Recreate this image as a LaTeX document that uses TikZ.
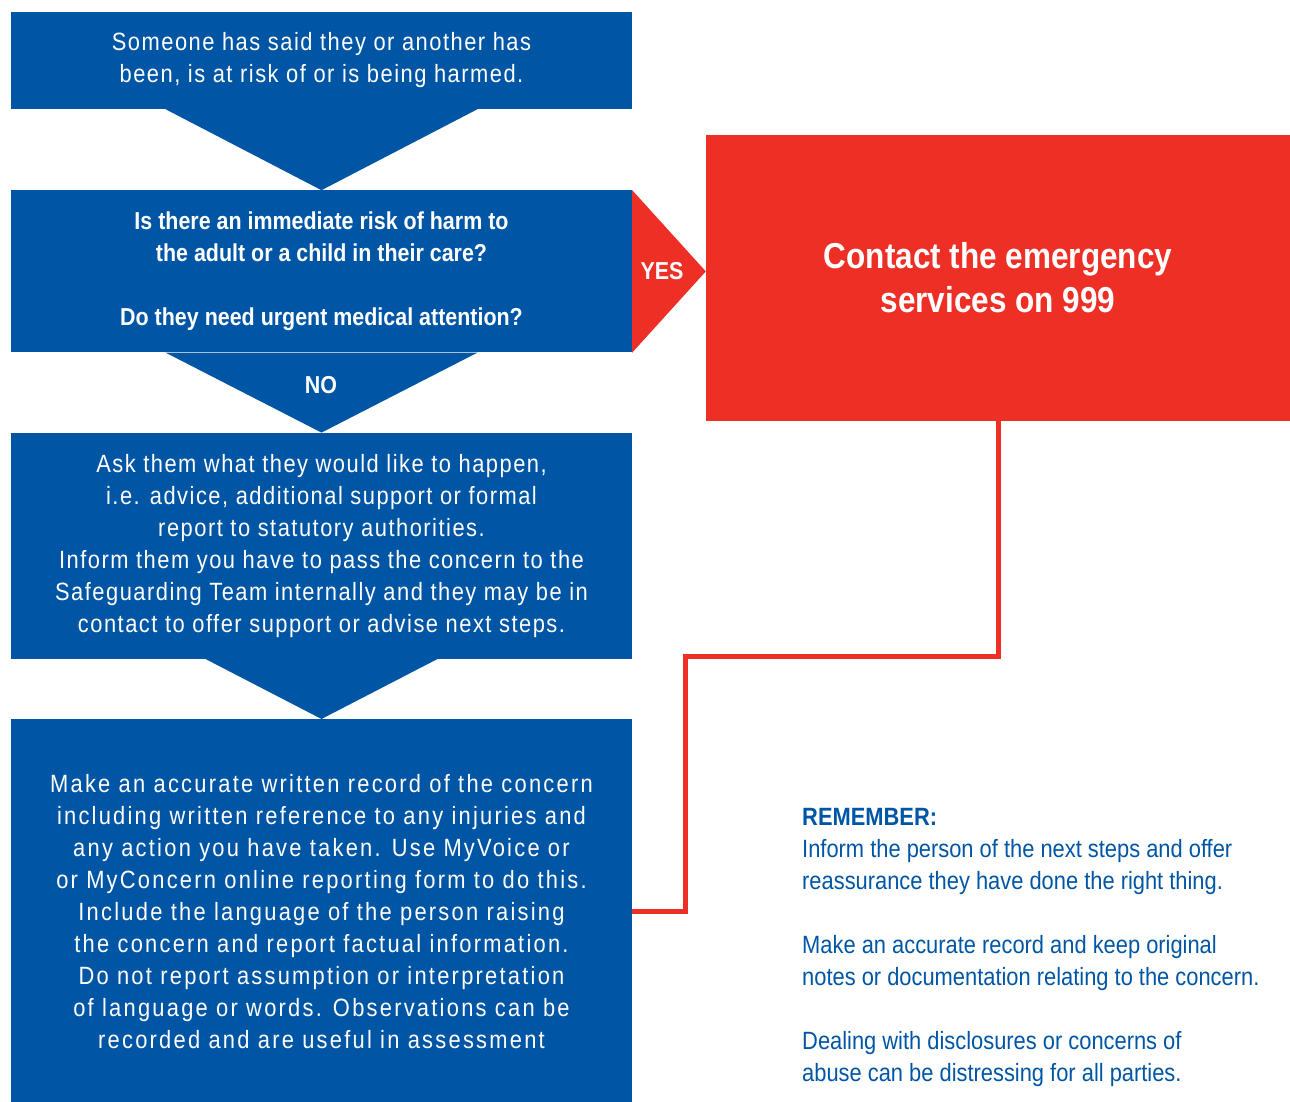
\documentclass[tikz,border=0pt]{standalone}
\usepackage{fontspec}
\setmainfont{Liberation Sans}[FakeStretch=0.875]
\newfontfamily\trackfont{Liberation Sans}[FakeStretch=0.875,LetterSpace=6]
\newfontfamily\widetrackfont{Liberation Sans}[FakeStretch=0.875,LetterSpace=9]
\usetikzlibrary{calc,positioning}
\definecolor{sgblue}{RGB}{0,86,165}
\definecolor{sgred}{RGB}{238,47,37}

\begin{document}
\begin{tikzpicture}[x=1pt,y=-1pt,
    bluebox/.style={rectangle, fill=sgblue, text=white, minimum width=621pt,
        inner sep=0pt, align=center, font=\trackfont\fontsize{25}{32}\selectfont},
    boldtext/.style={font=\bfseries\fontsize{24.5}{32}\selectfont},
    redline/.style={draw=sgred, line width=5pt}]

    \useasboundingbox (0,0) rectangle (1290,1102);

    %left column
    \node (start) [bluebox, minimum height=97pt] at (321.5,60.5)
        {Someone has said they or another has\\been, is at risk of or is being harmed.};
    \node (check) [bluebox, boldtext, minimum height=162pt, below=81pt of start]
        {Is there an immediate risk of harm to\\the adult or a child in their care?\\[32pt]Do they need urgent medical attention?};
    \node (advise) [bluebox, minimum height=226pt, below=80pt of check]
        {Ask them what they would like to happen,\\i.e. advice, additional support or formal\\report to statutory authorities.\\Inform them you have to pass the concern to the\\Safeguarding Team internally and they may be in\\contact to offer support or advise next steps.};
    \node (record) [bluebox, minimum height=384pt, below=60pt of advise,
        font=\widetrackfont\fontsize{25}{32}\selectfont]
        {Make an accurate written record of the concern\\including written reference to any injuries and\\any action you have taken. Use MyVoice or\\or MyConcern online reporting form to do this.\\Include the language of the person raising\\the concern and report factual information.\\Do not report assumption or interpretation\\of language or words. Observations can be\\recorded and are useful in assessment};

    %emergency box
    \node (emerg) [rectangle, fill=sgred, text=white, minimum width=584pt, minimum height=286pt,
        inner sep=0pt, align=center, font=\bfseries\fontsize{36}{44}\selectfont] at (998,278)
        {Contact the emergency\\services on 999};

    %arrows
    \fill [sgblue] ($(start.south)+(-156,0)$) -- ($(start.south)+(156,0)$) -- (check.north) -- cycle;
    \fill [sgblue] ($(check.south)+(-156,0)$) -- ($(check.south)+(156,0)$) -- (advise.north) -- cycle;
    \fill [sgblue] ($(advise.south)+(-116,0)$) -- ($(advise.south)+(116,0)$) -- (record.north) -- cycle;
    \fill [sgred] (check.north east) -- (emerg.west |- check.east) -- (check.south east) -- cycle;

    \node (yes) [text=white, boldtext] at (662,271) {YES};
    \node (no) [text=white, boldtext] at (321,385) {NO};

    %connector
    \coordinate (knee) at (685,656);
    \draw [redline] (emerg.south) |- (knee) |- (record.east);

    %notes
    \node (remember) [anchor=north west, inner sep=0pt, align=left, text=sgblue,
        font=\fontsize{25}{32}\selectfont] at (802,808)
        {\textbf{REMEMBER:}\\Inform the person of the next steps and offer\\reassurance they have done the right thing.\\[32pt]Make an accurate record and keep original\\notes or documentation relating to the concern.\\[32pt]Dealing with disclosures or concerns of\\abuse can be distressing for all parties.};

\end{tikzpicture}
\end{document}
